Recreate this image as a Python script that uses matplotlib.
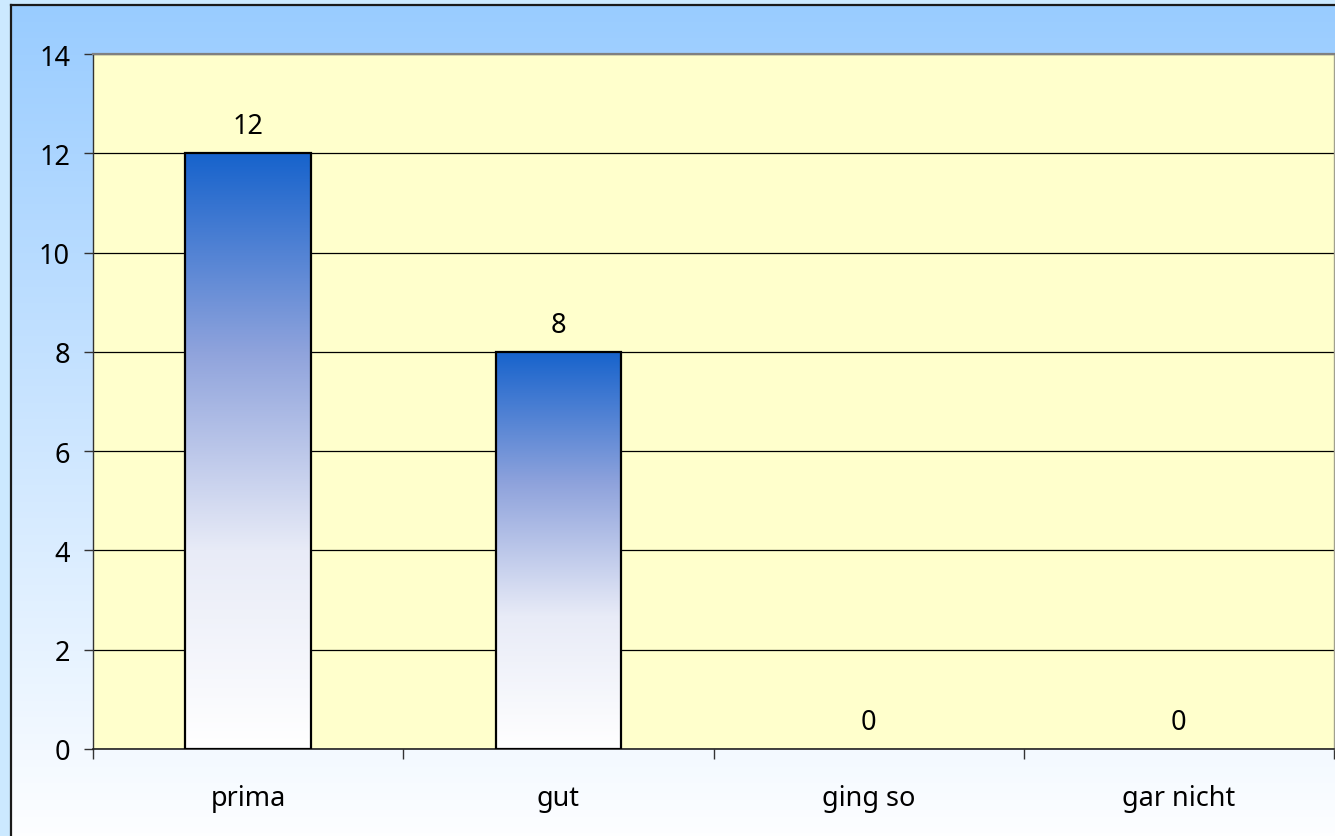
import matplotlib

matplotlib.use("Agg")

import matplotlib.pyplot as plt
import numpy as np
from matplotlib.colors import LinearSegmentedColormap
from matplotlib.ticker import FixedLocator

categories = ["prima", "gut", "ging so", "gar nicht"]
counts = [12, 8, 0, 0]
y_ticks = [0, 2, 4, 6, 8, 10, 12, 14]

plt.rcParams["font.family"] = ["Noto Sans", "DejaVu Sans"]
plt.rcParams["font.size"] = 19.5

fig = plt.figure(figsize=(13.35, 8.37), dpi=100)
fig.patch.set_facecolor("#cce9ff")

# background panel with vertical blue-to-white gradient and dark frame
bg = fig.add_axes([11 / 1335, -0.02, 1.0, 1 - 6 / 837 + 0.02])
bg_cmap = LinearSegmentedColormap.from_list("bg", ["#ffffff", "#99ccff"])
bg.imshow(np.linspace(0, 1, 256).reshape(-1, 1), cmap=bg_cmap, aspect="auto",
          origin="lower", extent=[0, 1, 0, 1])
bg.set_xticks([])
bg.set_yticks([])
for spine in bg.spines.values():
    spine.set_color("#1a1a1a")
    spine.set_linewidth(1.6)

ax = fig.add_axes([93 / 1335, 1 - 750 / 837, (1334 - 93) / 1335, (750 - 55) / 837])
ax.set_facecolor("#ffffcc")

x = np.arange(len(categories))
edge_colors = ["black" if v > 0 else "none" for v in counts]
bars = ax.bar(x, counts, width=0.405, facecolor="none", edgecolor=edge_colors,
              linewidth=1.6, zorder=3)

bar_cmap = LinearSegmentedColormap.from_list("bar", ["#ffffff", "#e8ebf7", "#8fa3dc", "#1763cc"])
grad = np.linspace(0, 1, 256).reshape(-1, 1)
for rect in bars:
    h = rect.get_height()
    if h <= 0:
        continue
    x0 = rect.get_x()
    ax.imshow(grad, cmap=bar_cmap, aspect="auto", origin="lower",
              extent=[x0, x0 + rect.get_width(), 0, h], zorder=2)

for xi, val in zip(x, counts):
    ax.annotate(str(val), (xi, val), xytext=(0, 14.5), textcoords="offset points",
                ha="center", va="baseline")

ax.set_xlim(-0.5, len(categories) - 0.5)
ax.set_ylim(0, 14)
ax.set_yticks(y_ticks)
ax.yaxis.grid(True, color="black", linewidth=0.9, zorder=1)
ax.set_axisbelow(True)

ax.set_xticks(x)
ax.set_xticklabels(categories)
ax.xaxis.set_minor_locator(FixedLocator(np.arange(len(categories) + 1) - 0.5))
ax.tick_params(axis="x", which="major", length=0, pad=25)
ax.tick_params(axis="x", which="minor", length=7, width=1, color="#333333")
ax.tick_params(axis="y", length=6.5, width=1, color="#333333", pad=10)

ax.spines["top"].set_color("#808080")
ax.spines["top"].set_linewidth(1.6)
ax.spines["right"].set_color("#a0a090")
ax.spines["right"].set_linewidth(1.0)
ax.spines["left"].set_color("#333333")
ax.spines["left"].set_linewidth(1.0)
ax.spines["bottom"].set_color("#222222")
ax.spines["bottom"].set_linewidth(1.2)

fig.savefig("out.png", dpi=100, facecolor=fig.get_facecolor())
